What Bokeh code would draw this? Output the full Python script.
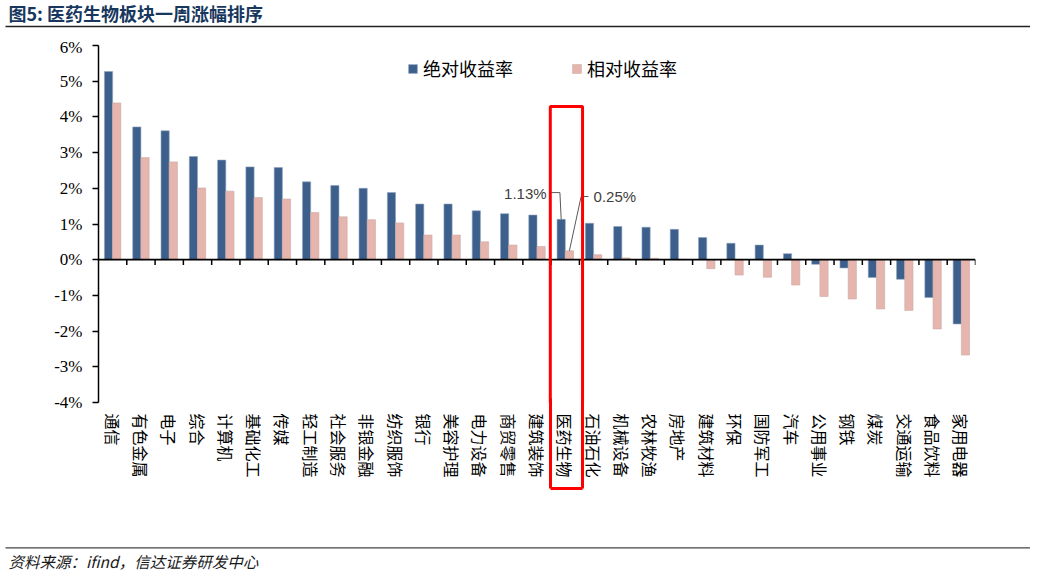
from bokeh.plotting import figure
from bokeh.layouts import column
from bokeh.models import (FactorRange, Range1d, ColumnDataSource, Legend, LegendItem,
                          BoxAnnotation, Span, FixedTicker, PrintfTickFormatter, LinearAxis,
                          CustomJSTickFormatter)
from bokeh.transform import dodge
from bokeh.core.properties import value
from bokeh.embed import file_html
from bokeh.resources import INLINE

categories = ["通信", "有色金属", "电子", "综合", "计算机", "基础化工", "传媒", "轻工制造",
              "社会服务", "非银金融", "纺织服饰", "银行", "美容护理", "电力设备", "商贸零售",
              "建筑装饰", "医药生物", "石油石化", "机械设备", "农林牧渔", "房地产", "建筑材料",
              "环保", "国防军工", "汽车", "公用事业", "钢铁", "煤炭", "交通运输", "食品饮料", "家用电器"]
absolute_ret = [5.27, 3.72, 3.61, 2.89, 2.79, 2.60, 2.58, 2.18, 2.08, 2.00, 1.88, 1.56, 1.56,
                1.37, 1.29, 1.25, 1.13, 1.02, 0.93, 0.91, 0.85, 0.62, 0.46, 0.41, 0.17,
                -0.13, -0.23, -0.50, -0.55, -1.06, -1.80]
relative_ret = [4.39, 2.86, 2.74, 2.01, 1.92, 1.74, 1.70, 1.32, 1.20, 1.12, 1.03, 0.69, 0.69,
                0.50, 0.41, 0.37, 0.25, 0.14, 0.05, 0.04, 0.01, -0.25, -0.43, -0.49, -0.71,
                -1.03, -1.10, -1.38, -1.42, -1.94, -2.67]
y_ticks = [-4, -3, -2, -1, 0, 1, 2, 3, 4, 5, 6]
series_names = ["绝对收益率", "相对收益率"]
highlight = "医药生物"
title_text = "图5: 医药生物板块一周涨幅排序"
source_text = "资料来源：ifind，信达证券研发中心"

BLUE = "#3C5F8C"
PINK = "#E6B5AE"
W = 1030


def banner(height):
    f = figure(width=W, height=height, x_range=Range1d(0, W), y_range=Range1d(height, 0),
               output_backend="svg", toolbar_location=None, min_border=0,
               min_border_left=0, min_border_right=0, min_border_top=0, min_border_bottom=0,
               x_axis_location=None, y_axis_location=None)
    f.grid.visible = False
    f.outline_line_color = None
    return f


# ---- title strip ----
top = banner(37)
top.text(x=[8], y=[12.5], text=[title_text], text_baseline="middle",
         text_font=value("Noto Sans CJK SC"), text_font_style="bold",
         text_font_size="18px", text_color="#17375E")
top.segment(x0=[5], y0=[26], x1=[W], y1=[26], line_color="#222222", line_width=1.4)

# ---- main chart ----
src = ColumnDataSource(dict(cat=categories, a=absolute_ret, r=relative_ret))
n = len(categories)
p = figure(width=W, height=463,
           x_range=FactorRange(factors=categories, range_padding=0),
           y_range=(y_ticks[0], y_ticks[-1]),
           output_backend="svg", toolbar_location=None,
           min_border_left=98, min_border_right=55, min_border_top=8, min_border_bottom=98)
p.outline_line_color = None
p.xgrid.visible = False
p.ygrid.visible = False

r1 = p.vbar(x=dodge("cat", -0.145, range=p.x_range), top="a", width=0.29, source=src,
            fill_color=BLUE, line_color="#8FA3BE", line_width=0.6)
r2 = p.vbar(x=dodge("cat", 0.145, range=p.x_range), top="r", width=0.29, source=src,
            fill_color=PINK, line_color="#C9A9A4", line_width=0.6)

p.add_layout(Span(location=0, dimension="width", line_color="black", line_width=1.7))
p.segment(x0=list(range(1, n + 1)), y0=[0] * n, x1=list(range(1, n + 1)), y1=[-0.15] * n,
          line_color="black", line_width=1.5)

xa = p.xaxis[0]
xa.axis_line_color = None
xa.major_tick_line_color = None
xa.major_tick_out = 0
xa.major_label_orientation = "vertical"
xa.major_label_standoff = 11
xa.major_label_text_font = "Noto Sans CJK SC"
xa.major_label_text_font_size = "16px"
xa.major_label_text_color = "black"

ya = p.yaxis[0]
ya.ticker = FixedTicker(ticks=y_ticks)
ya.formatter = PrintfTickFormatter(format="%d%%")
ya.axis_line_color = "black"
ya.axis_line_width = 1.5
ya.major_tick_line_color = "black"
ya.major_tick_line_width = 1.5
ya.major_tick_out = 6
ya.major_tick_in = 0
ya.minor_tick_line_color = None
ya.major_label_standoff = 10
ya.major_label_text_font = "Liberation Serif"
ya.major_label_text_font_size = "17px"
ya.major_label_text_color = "black"

legend = Legend(items=[LegendItem(label=series_names[0], renderers=[r1]),
                       LegendItem(label=series_names[1], renderers=[r2])],
                orientation="horizontal", location=(309, 321),
                glyph_width=11, glyph_height=11, label_standoff=5, spacing=58,
                padding=0, margin=0, border_line_color=None, background_fill_alpha=0,
                label_text_font="Noto Sans CJK SC", label_text_font_size="18px",
                label_text_color="black", label_height=20)
p.add_layout(legend)

# highlight box around the 医药生物 group (frame part + continuation through label area)
hi = categories.index(highlight)
box_l, box_r = hi - 0.03, hi + 1.11
p.add_layout(BoxAnnotation(left=box_l, right=box_r, top=4.29, bottom=-4.6,
                           fill_alpha=0, line_color="#FF0000", line_alpha=1, line_width=3))
spacer_axis = LinearAxis(ticker=FixedTicker(ticks=[box_l]), axis_line_color=None,
                         formatter=CustomJSTickFormatter(code="return ''"),
                         major_tick_line_color=None, major_tick_out=8, major_tick_in=0,
                         minor_tick_line_color=None, major_label_standoff=0)
p.add_layout(spacer_axis, "below")
red_axis = LinearAxis(ticker=FixedTicker(ticks=[box_l, box_r]),
                      bounds=(box_l - 0.001, box_r + 0.001),
                      formatter=CustomJSTickFormatter(code="return ''"),
                      axis_line_color="#FF0000", axis_line_width=3,
                      major_tick_line_color="#FF0000", major_tick_line_width=3,
                      major_tick_in=90, major_tick_out=0, minor_tick_line_color=None,
                      major_label_standoff=0)
p.add_layout(red_axis, "below")

a_val = absolute_ret[hi]
r_val = relative_ret[hi]
p.line(x=[hi - 0.02, hi + 0.31, hi + 0.355], y=[1.88, 1.88, a_val], line_color="#595959", line_width=1)
p.line(x=[hi + 0.645, hi + 1.06, hi + 1.32], y=[r_val, 1.77, 1.77], line_color="#595959", line_width=1)
p.text(x=[hi - 0.16], y=[1.86], text=[f"{a_val:.2f}%"], text_align="right", text_baseline="middle",
       text_font=value("Liberation Sans"), text_font_size="15px", text_color="#404040")
p.text(x=[hi + 1.5], y=[1.77], text=[f"{r_val:.2f}%"], text_align="left", text_baseline="middle",
       text_font=value("Liberation Sans"), text_font_size="15px", text_color="#404040")

# ---- source strip ----
bot = banner(74)
bot.segment(x0=[5], y0=[47.3], x1=[W], y1=[47.3], line_color="#444444", line_width=1.3)
bot.text(x=[8], y=[60], text=[source_text], text_baseline="middle",
         text_font=value("Noto Sans CJK SC"), text_font_style="italic",
         text_font_size="15.5px", text_color="#1a1a1a")

layout = column(column(top), column(p), column(bot), spacing=0)
open("out.html", "w").write(file_html(layout, INLINE))
